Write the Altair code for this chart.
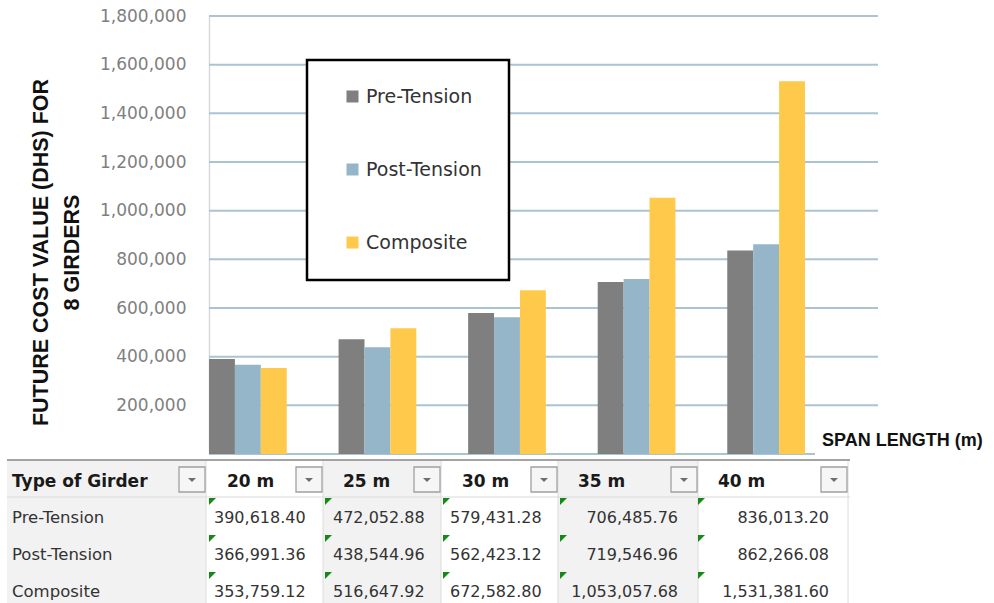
import altair as alt
import pandas as pd

# ---------------- data ----------------
spans = ["20 m", "25 m", "30 m", "35 m", "40 m"]
types = ["Pre-Tension", "Post-Tension", "Composite"]
pre_tension = [390618.40, 472052.88, 579431.28, 706485.76, 836013.20]
post_tension = [366991.36, 438544.96, 562423.12, 719546.96, 862266.08]
composite = [353759.12, 516647.92, 672582.80, 1053057.68, 1531381.60]
y_ticks = [200000, 400000, 600000, 800000, 1000000, 1200000, 1400000, 1600000, 1800000]
y_title = ["FUTURE  COST VALUE (DHS) FOR", "8 GIRDERS"]
x_title = "SPAN LENGTH (m)"
table_header = "Type of Girder"
colors = ["#7f7f7f", "#95b6c8", "#ffc94b"]

rows = []
for t, vals in zip(types, [pre_tension, post_tension, composite]):
    for s, v in zip(spans, vals):
        rows.append({"span": s, "type": t, "value": v})
df = pd.DataFrame(rows)
df_types = pd.DataFrame({"type": types})
df_ticks = pd.DataFrame({"tick": y_ticks})

# ---------------- layout ----------------
W, H = 669, 438
OX, OY = 209, 16
GRID = "#a9c4d3"


def px(x):
    return x - OX


def py(y):
    return y - OY


one = alt.Data(values=[{"k": 0}])


def box(x1, x2, y1, y2, fill, stroke=None, sw=0.0):
    kw = dict(fill=fill, opacity=1)
    if stroke:
        kw.update(stroke=stroke, strokeWidth=sw)
    else:
        kw.update(strokeWidth=0)
    return alt.Chart(one).mark_rect(**kw).encode(
        x=alt.value(px(x1)), x2=alt.value(px(x2)),
        y=alt.value(py(y1)), y2=alt.value(py(y2)))


def hline(x1, x2, y, color, w):
    return alt.Chart(one).mark_rule(color=color, strokeWidth=w).encode(
        x=alt.value(px(x1)), x2=alt.value(px(x2)), y=alt.value(py(y)))


def vline(x, y1, y2, color, w):
    return alt.Chart(one).mark_rule(color=color, strokeWidth=w).encode(
        x=alt.value(px(x)), y=alt.value(py(y1)), y2=alt.value(py(y2)))


layers = []

# table backgrounds
col_bounds = [(7, 206), (206, 323), (323, 441), (441, 558), (558, 698), (698, 848)]
col_fill = ["#f2f2f2", "#ffffff", "#f2f2f2", "#ffffff", "#f2f2f2", "#ffffff"]
for (a, b), f in zip(col_bounds, col_fill):
    layers.append(box(a, b, 461, 603, f))
for a, b in col_bounds:
    layers.append(vline(b, 461, 603, "#dcdcdc", 1))
layers.append(hline(7, 850, 497, "#d9d9d9", 1.2))
layers.append(hline(7, 850, 460, "#a3a3a3", 2))

# dropdown buttons
tri_down = "M -1 -0.5 L 1 -0.5 L 0 0.5 Z"
for a, b in col_bounds:
    right = b - 1
    layers.append(box(right - 26, right, 467, 492, "#f6f6f6", "#a0a0a0", 1.3))
    layers.append(alt.Chart(one).mark_point(shape=tri_down, filled=True, fill="#6e6e6e",
                                            size=64, strokeWidth=0, opacity=1).encode(
        x=alt.value(px(right - 13)), y=alt.value(py(480))))

# x baseline
layers.append(hline(209, 815, 454, GRID, 2))

y_scale = alt.Scale(domain=[0, 1800000], nice=False)
y_axis = alt.Axis(values=y_ticks, format=",d", labelFont="DejaVu Sans",
                  labelFontSize=17, labelColor="#7f7f7f", labelPadding=23,
                  ticks=False, grid=False, domainColor="#d9d9d9", domainWidth=1.5,
                  title=y_title, titleFont="Liberation Sans", titleFontWeight="bold",
                  titleFontSize=21.5, titleColor="#111111", titleAngle=270,
                  titleX=-168, titleY=236, titleBaseline="middle", titleAlign="center",
                  titleLineHeight=31)

grid = alt.Chart(df_ticks).mark_rule(color=GRID, strokeWidth=2).encode(
    y=alt.Y("tick:Q", scale=y_scale, axis=y_axis),
    x=alt.value(0), x2=alt.value(W))

# bars
bars = alt.Chart(df).mark_bar().encode(
    x=alt.X("span:N", sort=spans,
            scale=alt.Scale(domain=spans, range=[0, 596], paddingInner=0.4, paddingOuter=0),
            axis=None),
    xOffset=alt.XOffset("type:N", sort=types,
                        scale=alt.Scale(domain=types, paddingInner=0, paddingOuter=0)),
    y=alt.Y("value:Q", scale=y_scale, axis=y_axis),
    color=alt.Color("type:N", sort=types,
                    scale=alt.Scale(domain=types, range=colors),
                    legend=alt.Legend(title=None, orient="none", legendX=98, legendY=44,
                                      direction="vertical", padding=27, symbolOffset=9,
                                      symbolType="square", symbolSize=144, symbolStrokeWidth=0,
                                      labelFont="DejaVu Sans", labelFontSize=19,
                                      labelColor="#333333", labelOffset=4, rowPadding=53,
                                      strokeColor="black", fillColor="white")),
)
layers.append(alt.layer(grid, bars))

# x title
layers.append(alt.Chart(one).mark_text(align="left", baseline="middle", font="Liberation Sans",
                                       fontWeight="bold", fontSize=18, color="#111111").encode(
    x=alt.value(px(822)), y=alt.value(py(441)), text=alt.value(x_title)))

# table header
layers.append(alt.Chart(one).mark_text(align="left", baseline="middle", font="DejaVu Sans",
                                       fontWeight="bold", fontSize=17, color="#1a1a1a").encode(
    x=alt.value(px(12)), y=alt.value(py(482)), text=alt.value(table_header)))
head_x = [227, 343, 462, 578, 718]
for s, hx in zip(spans, head_x):
    layers.append(alt.Chart(one).mark_text(align="left", baseline="middle", font="DejaVu Sans",
                                           fontWeight="bold", fontSize=17, color="#1a1a1a").encode(
        x=alt.value(px(hx)), y=alt.value(py(482)), text=alt.value(s)))

row_y = alt.Y("type:N", sort=types,
              scale=alt.Scale(type="point", domain=types, range=[py(518), py(592)], padding=0),
              axis=None)
tri_y = alt.Y("type:N", sort=types,
              scale=alt.Scale(type="point", domain=types, range=[py(518) - 16.5, py(592) - 16.5], padding=0),
              axis=None)

layers.append(alt.Chart(df_types).mark_text(align="left", baseline="middle", font="DejaVu Sans",
                                            fontSize=16.5, color="#333333").encode(
    x=alt.value(px(12)), y=row_y, text="type:N"))

# value columns: (anchor x, align)
val_pos = [(214, "left"), (333, "left"), (450, "left"), (678, "right"), (829, "right")]
tri_x = [209, 325, 443, 560, 698]
tri_corner = "M -1 -1 L 1 -1 L -1 1 Z"
for s, (vx, al), tx in zip(spans, val_pos, tri_x):
    sub = alt.Chart(df).transform_filter(alt.datum.span == s)
    layers.append(sub.mark_text(align=al, baseline="middle", font="DejaVu Sans",
                                fontSize=16, color="#333333").encode(
        x=alt.value(px(vx)), y=row_y, text=alt.Text("value:Q", format=",.2f")))
    layers.append(sub.mark_point(shape=tri_corner, filled=True, fill="#138a13", size=49,
                                 strokeWidth=0, opacity=1).encode(
        x=alt.value(px(tx) + 3.5), y=tri_y))

chart = alt.layer(*layers).resolve_scale(y="independent").properties(
    width=W, height=H,
    autosize=alt.AutoSizeParams(type="none"),
    padding={"left": OX, "top": OY, "right": 994 - OX - W, "bottom": 603 - OY - H},
    background="white",
).configure_view(stroke=None).configure_legend(strokeWidth=2.5)

chart.save("out.html", embed_options={"renderer": "svg", "actions": False})
